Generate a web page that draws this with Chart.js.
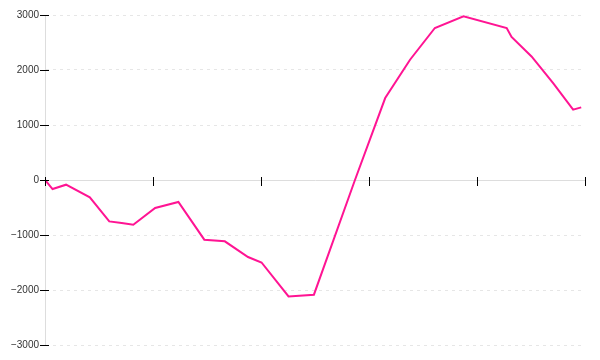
<!DOCTYPE html>
<html>
<head>
<meta charset="utf-8">
<script src="https://cdn.jsdelivr.net/npm/chart.js@4/dist/chart.umd.min.js"></script>
<style>
html,body{margin:0;padding:0;background:#fff;}
canvas{display:block;}
</style>
</head>
<body>
<canvas id="c" width="600" height="360"></canvas>
<script>
// x positions (arbitrary units, axis 0..100) and values
const xValues = [0, 1.4, 3.9, 8.3, 11.9, 14.2, 16.35, 20.4, 24.7, 29.5, 33.3, 37.6, 40.1, 45.1, 49.8, 57.4, 63.0, 67.6, 72.2, 77.5, 85.5, 86.4, 90.1, 94.1, 97.8, 99.3];
const yValues = [0, -164, -85, -316, -753, -780, -813, -509, -400, -1085, -1115, -1400, -1500, -2116, -2085, 0, 1490, 2187, 2764, 2975, 2764, 2600, 2247, 1760, 1278, 1320];
const yTickValues = [-3000, -2000, -1000, 0, 1000, 2000, 3000];
const xTickValues = [0, 20, 40, 60, 80, 100];

const points = xValues.map((x, i) => ({x: x, y: yValues[i]}));

const crossTicks = {
  id: 'crossTicks',
  afterDraw(chart) {
    const ctx = chart.ctx;
    const xs = chart.scales.x, ys = chart.scales.y;
    const y0 = ys.getPixelForValue(0);
    const xl = xs.getPixelForValue(0);
    ctx.save();
    ctx.strokeStyle = '#000';
    ctx.lineWidth = 1;
    ctx.beginPath();
    xTickValues.forEach(v => {
      const px = Math.round(xs.getPixelForValue(v)) + 0.5;
      ctx.moveTo(px, y0 - 3);
      ctx.lineTo(px, y0 + 6);
    });
    yTickValues.forEach(v => {
      const py = Math.round(ys.getPixelForValue(v)) + 0.5;
      ctx.moveTo(xl - 5, py);
      ctx.lineTo(xl + 4, py);
    });
    ctx.stroke();
    ctx.restore();
  }
};

new Chart(document.getElementById('c'), {
  type: 'line',
  data: {
    datasets: [{
      data: points,
      borderColor: '#ff1493',
      borderWidth: 2,
      pointRadius: 0,
      tension: 0,
      fill: false
    }]
  },
  options: {
    responsive: false,
    animation: false,
    layout: {padding: {top: 15, bottom: 15, right: 15, left: 0}},
    plugins: {legend: {display: false}, tooltip: {enabled: false}},
    scales: {
      x: {
        type: 'linear',
        position: {y: 0},
        min: 0, max: 100,
        afterBuildTicks: s => { s.ticks = xTickValues.map(v => ({value: v})); },
        ticks: {display: false},
        grid: {drawOnChartArea: false, drawTicks: false},
        border: {color: '#dddddd', width: 1}
      },
      y: {
        min: -3000, max: 3000,
        afterBuildTicks: s => { s.ticks = yTickValues.map(v => ({value: v})); },
        afterFit: s => { s.width = 45; },
        ticks: {
          padding: 2,
          color: '#333',
          font: {family: 'Liberation Sans', size: 10},
          callback: v => (v < 0 ? '\u2212' + Math.abs(v) : String(v))
        },
        grid: {color: '#e6e6e6', tickLength: 4, tickColor: 'rgba(0,0,0,0)'},
        border: {color: '#dddddd', width: 1, dash: [3, 4]}
      }
    }
  },
  plugins: [crossTicks]
});
</script>
</body>
</html>
